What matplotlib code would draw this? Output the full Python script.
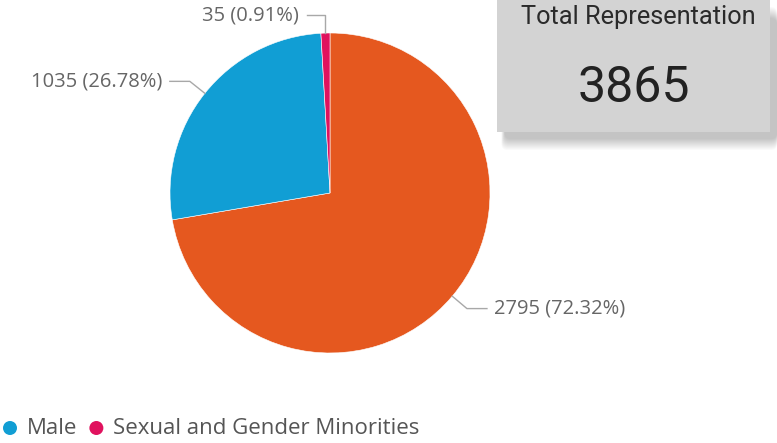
import numpy as np
import matplotlib.pyplot as plt
from matplotlib.patches import Rectangle, Circle, FancyBboxPatch

# Dados do gráfico
categorias = ['Female', 'Male', 'Sexual and Gender Minorities']
valores = [2795, 1035, 35]
cores = ['#E5581F', '#119ED4', '#E0125E']
legenda = ['Male', 'Sexual and Gender Minorities']
cores_legenda = ['#119ED4', '#E0125E']
total = sum(valores)

W, H = 777, 443
fig = plt.figure(figsize=(W / 100, H / 100), dpi=100)
ax = fig.add_axes([0, 0, 1, 1])

# Pizza em coordenadas de pixel (y para cima)
cx, cy, r = 330, H - 193, 160
wedges, _ = ax.pie(valores, colors=cores, startangle=90, counterclock=False,
                   center=(cx, cy), radius=r, frame=True,
                   wedgeprops=dict(linewidth=0.4, edgecolor='white'))
ax.set_xlim(0, W)
ax.set_ylim(0, H)
ax.axis('off')

fonte = 'Open Sans'
cinza = '#666666'
linha = '#a8a8a8'

# Rótulos com linhas de chamada
for w, v in zip(wedges, valores):
    ang = np.deg2rad((w.theta1 + w.theta2) / 2)
    x0 = cx + r * 1.0 * np.cos(ang)
    y0 = cy + r * 1.0 * np.sin(ang)
    txt = f'{v} ({v / total * 100:.2f}%)'
    if v == 35:
        xs = [x0, x0, x0 - 18]
        ys = [y0, H - 15, H - 15]
        ax.plot(xs, ys, color=linha, lw=1)
        ax.text(xs[-1] - 9, ys[-1], txt, ha='right', va='center',
                fontsize=14.5, color=cinza, family=fonte)
    else:
        lado = 1 if np.cos(ang) > 0 else -1
        x1 = cx + r * 1.12 * np.cos(ang)
        y1 = cy + r * 1.12 * np.sin(ang)
        x2 = x1 + lado * 20
        ax.plot([x0, x1, x2], [y0, y1, y1], color=linha, lw=1)
        ax.text(x2 + lado * 7, y1, txt, ha='left' if lado > 0 else 'right',
                va='center', fontsize=14.5, color=cinza, family=fonte)

# Cartão do total com sombra suave
for i in range(12):
    d = 12 - i
    ax.add_patch(FancyBboxPatch((505 - d * 0.3, H - 132 - 6 - d), 272 + d * 0.3, 132,
                                boxstyle='round,pad=0,rounding_size=6',
                                facecolor='black', alpha=0.018, edgecolor='none'))
ax.add_patch(Rectangle((497, H - 132), 273, 140, facecolor='#D3D3D3',
                       edgecolor='none'))
ax.text(638, H - 17, 'Total Representation', ha='center', va='center',
        fontsize=18.3, color='#2a2a2a', family='Roboto')
ax.text(634, H - 88, str(total), ha='center', va='center',
        fontsize=36, color='#222222', family='Roboto')

# Legenda
x = 10
for nome, c in zip(legenda, cores_legenda):
    ax.add_patch(Circle((x, H - 428), 7, facecolor=c, edgecolor='none'))
    t = ax.text(x + 17, H - 429, nome, ha='left', va='center', fontsize=16,
                color='#555555', family=fonte)
    fig.canvas.draw()
    bb = t.get_window_extent()
    x = bb.x1 + 19

fig.savefig('out.png', dpi=100)
